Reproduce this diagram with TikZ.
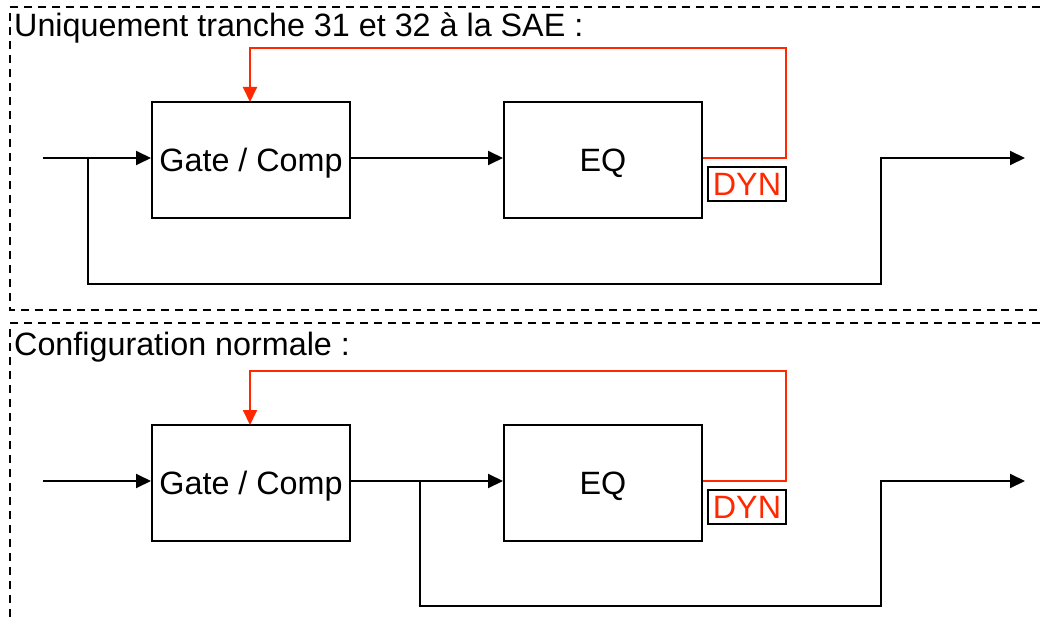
\documentclass[tikz,border=0pt]{standalone}
\usepackage{fontspec}
\setmainfont{Liberation Sans}
\usetikzlibrary{arrows.meta}
\definecolor{dynred}{RGB}{255,40,0}
\tikzset{
  blockbox/.style={draw=black, line width=2pt, minimum width=198pt, minimum height=116pt, inner sep=0pt, text height=23pt, text depth=0pt, font=\fontsize{32.3}{32.3}\selectfont},
  wire/.style={draw=black, line width=2pt},
  arr/.style={-{Triangle[length=15pt,width=14pt]}},
  redwire/.style={draw=dynred, line width=2pt},
  dynbox/.style={draw=black, line width=1.6pt, text=dynred, minimum width=78pt, minimum height=34pt, inner sep=0pt, text height=23pt, text depth=0pt, font=\fontsize{32.3}{32.3}\selectfont},
  frame/.style={draw=black, line width=2pt, dash pattern=on 8pt off 6pt},
  titletext/.style={anchor=base west, inner sep=0pt, font=\fontsize{32.3}{32.3}\selectfont},
}
\begin{document}
\begin{tikzpicture}[x=1pt,y=-1pt]
\useasboundingbox (0,0) rectangle (1042,623);
% ---------- frames ----------
\draw[frame] (1040,7) -- (10,7) -- (10,310) -- (1040,310);
\draw[frame] (1040,323) -- (10,323) -- (10,623);
% ---------- top panel ----------
\node[titletext] (t1) at (14,37) {Uniquement tranche 31 et 32 à la SAE :};
\node[blockbox] (g1) at (251,160) {Gate / Comp};
\node[blockbox] (e1) at (603,160) {EQ};
\node[dynbox] (d1) at (747,184) {DYN};
\coordinate (in1) at (43,158);
\coordinate (b1) at (88,158);
\coordinate (out1) at (1025,158);
\coordinate (r1) at (786,158);
\draw[wire,arr] (in1) -- (in1 -| g1.west);
\draw[wire,arr] (g1.east |- in1) -- (e1.west |- in1);
\draw[wire,arr] (b1) -- (88,284) -- (881,284) -- (881,158) -- (out1);
\draw[redwire,arr] (e1.east |- r1) -- (r1) -- (786,48) -- (250,48) -- (250,102);
% ---------- bottom panel ----------
\node[titletext] (t2) at (14,355) {Configuration normale :};
\node[blockbox] (g2) at (251,483) {Gate / Comp};
\node[blockbox] (e2) at (603,483) {EQ};
\node[dynbox] (d2) at (747,507) {DYN};
\coordinate (in2) at (43,481);
\coordinate (b2) at (420,481);
\coordinate (out2) at (1025,481);
\coordinate (r2) at (786,481);
\draw[wire,arr] (in2) -- (in2 -| g2.west);
\draw[wire,arr] (g2.east |- in2) -- (e2.west |- in2);
\draw[wire,arr] (b2) -- (420,606) -- (881,606) -- (881,481) -- (out2);
\draw[redwire,arr] (e2.east |- r2) -- (r2) -- (786,371) -- (250,371) -- (250,425);
\end{tikzpicture}
\end{document}
